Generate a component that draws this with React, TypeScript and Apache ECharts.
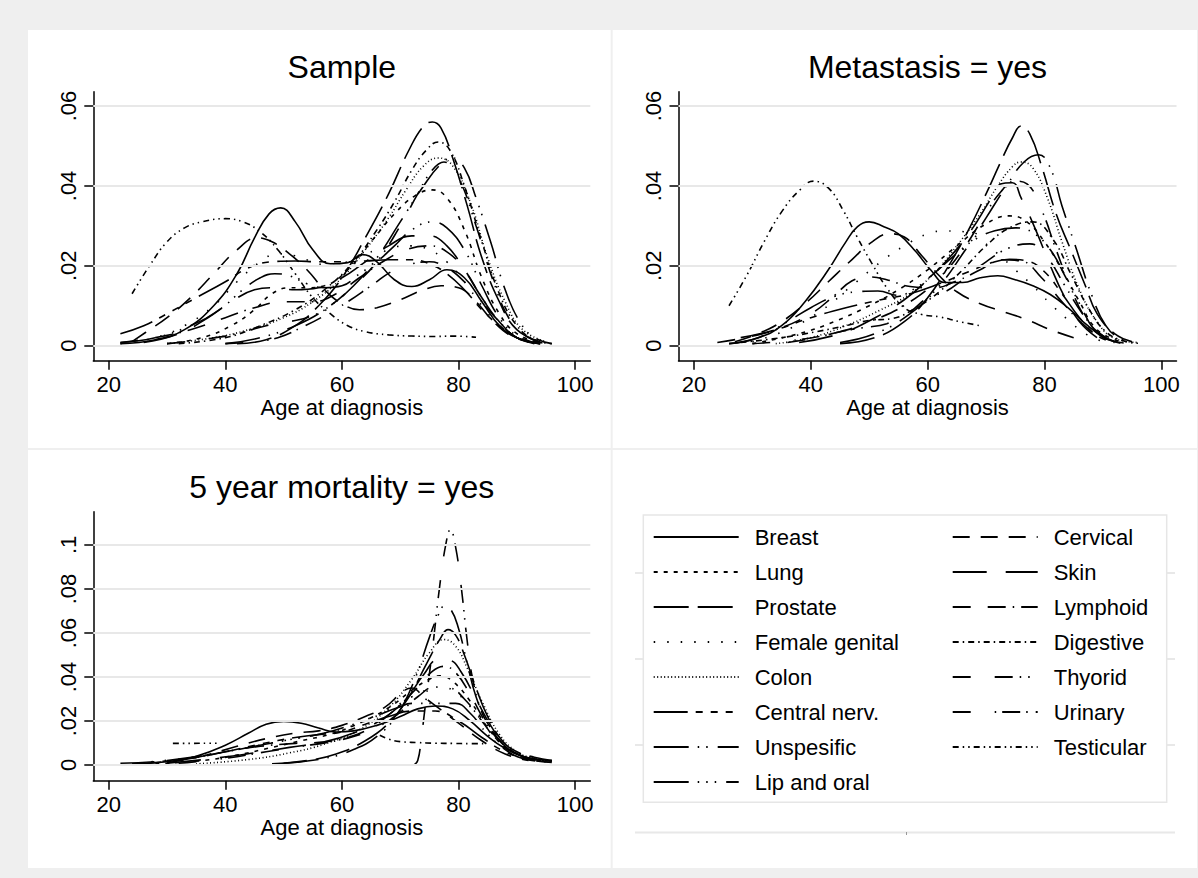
import React, { useEffect, useRef } from 'react';
import * as echarts from 'echarts';

const cancers = ['Breast', 'Lung', 'Prostate', 'Female genital', 'Colon', 'Central nerv.', 'Unspesific', 'Lip and oral', 'Cervical', 'Skin', 'Lymphoid', 'Digestive', 'Thyorid', 'Urinary', 'Testicular'];
const panelTitles = ['Sample', 'Metastasis = yes', '5 year mortality = yes'];
const xAxisTitle = 'Age at diagnosis';
const xTicks = [20, 40, 60, 80, 100];
const yTicksTop = [0, 0.02, 0.04, 0.06];
const yTicksBottom = [0, 0.02, 0.04, 0.06, 0.08, 0.1];

// Kernel density curves, Sample panel (order follows `cancers`)
const sampleCurves: number[][][] = [
  [[22,0.0005],[28,0.0015],[33,0.004],[38,0.01],[42,0.018],[45,0.027],[47.5,0.033],[49.5,0.0345],[52,0.031],[55,0.024],[58,0.0205],[61,0.0208],[63.5,0.0228],[66,0.021],[69,0.0165],[72,0.0148],[75,0.0165],[78,0.019],[81,0.017],[84,0.011],[87,0.005],[90,0.002],[94,0.0005]],
  [[30,0.0005],[36,0.002],[41,0.005],[45,0.009],[48,0.013],[51,0.0145],[54,0.0145],[57,0.015],[61,0.019],[65,0.026],[69,0.033],[72.5,0.0375],[75.5,0.039],[78,0.037],[81,0.029],[84,0.017],[87,0.008],[90,0.003],[94,0.0007]],
  [[42,0.0005],[47,0.0015],[52,0.005],[56,0.01],[60,0.017],[64,0.027],[68,0.038],[71.5,0.049],[74,0.055],[75.5,0.056],[77,0.0545],[79,0.047],[81.5,0.035],[84,0.022],[87,0.011],[90,0.004],[94,0.001]],
  [[22,0.0005],[28,0.002],[33,0.005],[38,0.01],[42,0.016],[46,0.021],[49,0.023],[52,0.0225],[55,0.021],[58,0.02],[61,0.021],[64,0.023],[68,0.0245],[72,0.025],[75,0.024],[78,0.021],[81,0.016],[84,0.01],[87,0.005],[90,0.002],[94,0.0005]],
  [[30,0.0005],[38,0.002],[44,0.004],[50,0.007],[55,0.011],[60,0.017],[64,0.024],[68,0.032],[71,0.039],[74,0.045],[76.5,0.047],[79,0.045],[82,0.036],[85,0.022],[88,0.011],[91,0.004],[95,0.001]],
  [[22,0.003],[26,0.005],[30,0.008],[35,0.012],[40,0.016],[44,0.0195],[48,0.021],[52,0.0212],[56,0.021],[60,0.021],[64,0.0212],[68,0.0215],[72,0.0215],[75,0.0205],[78,0.018],[81,0.014],[84,0.009],[87,0.005],[90,0.002],[94,0.0005]],
  [[40,0.0005],[46,0.002],[52,0.005],[57,0.009],[62,0.015],[66,0.022],[70,0.031],[74,0.04],[77,0.0455],[79,0.047],[81,0.0445],[83,0.037],[85.5,0.026],[88,0.014],[90.5,0.006],[93,0.002],[96,0.0005]],
  [[22,0.0008],[28,0.002],[34,0.005],[39,0.009],[43,0.014],[46,0.017],[48.5,0.018],[51,0.0175],[54,0.0155],[57,0.0145],[60,0.015],[63,0.018],[66,0.021],[69,0.025],[72,0.029],[75.5,0.031],[78,0.0295],[81,0.024],[84,0.015],[87,0.007],[90,0.0025],[94,0.0005]],
  [[24,0.001],[27,0.004],[30,0.007],[34,0.012],[38,0.018],[42,0.024],[45.5,0.027],[48,0.026],[51,0.023],[54,0.019],[57,0.014],[60,0.0105],[63,0.009],[66,0.0095],[70,0.0115],[74,0.014],[77,0.015],[80,0.0145],[83,0.011],[86,0.006],[89,0.0025],[93,0.0005]],
  [[26,0.0008],[32,0.003],[37,0.007],[41,0.011],[45,0.014],[48,0.0145],[52,0.014],[56,0.0145],[60,0.017],[64,0.021],[68,0.025],[72,0.0275],[75,0.0275],[78,0.025],[81,0.019],[84,0.012],[87,0.006],[90,0.002],[94,0.0005]],
  [[22,0.0008],[28,0.002],[34,0.004],[40,0.007],[45,0.0095],[50,0.011],[55,0.011],[59,0.013],[63,0.017],[67,0.021],[71,0.024],[75,0.025],[78,0.0235],[81,0.019],[84,0.012],[87,0.006],[90,0.002],[94,0.0005]],
  [[32,0.0005],[40,0.002],[46,0.005],[52,0.009],[57,0.014],[62,0.021],[66,0.029],[69,0.036],[72,0.044],[74.5,0.049],[76.5,0.051],[78.5,0.049],[81,0.04],[84,0.026],[87,0.013],[90,0.005],[93,0.0015],[96,0.0005]],
  [[30,0.0005],[36,0.0015],[42,0.003],[47,0.005],[51,0.006],[55,0.0075],[58,0.01],[62,0.015],[66,0.021],[70,0.03],[73,0.038],[75.5,0.044],[77.5,0.046],[80,0.042],[83,0.03],[86,0.016],[89,0.006],[92,0.002],[95,0.0005]],
  [[40,0.0005],[45,0.001],[49,0.002],[53,0.0045],[57,0.0075],[61,0.011],[65,0.015],[69,0.019],[72,0.0205],[75,0.021],[78,0.0195],[81,0.016],[84,0.011],[87,0.006],[90,0.002],[94,0.0005]],
  [[24,0.013],[27,0.02],[30,0.026],[33,0.0295],[36,0.031],[40,0.0318],[43,0.031],[46,0.0285],[49,0.024],[52,0.018],[55,0.012],[58,0.008],[61,0.005],[64,0.0035],[68,0.0027],[72,0.0024],[76,0.0023],[79,0.0024],[83,0.0021]],
];

// Metastasis = yes panel
const metastasisCurves: number[][][] = [
  [[26,0.0005],[31,0.002],[35,0.005],[39,0.011],[43,0.019],[46,0.026],[48,0.0298],[50,0.031],[52.5,0.0298],[55,0.028],[58,0.0235],[60.5,0.019],[63,0.0158],[66,0.0158],[69,0.017],[72,0.0175],[75,0.0165],[78,0.015],[81,0.0128],[84,0.0095],[87,0.0055],[90,0.0022],[93,0.0006]],
  [[30,0.0005],[38,0.003],[44,0.006],[50,0.01],[55,0.014],[60,0.019],[65,0.025],[70,0.0305],[74,0.0325],[77,0.031],[80,0.026],[83,0.019],[86,0.011],[89,0.004],[93,0.001]],
  [[45,0.0005],[51,0.002],[56,0.006],[60,0.012],[64,0.021],[67,0.029],[70,0.038],[72.5,0.046],[74.5,0.052],[76,0.055],[77.5,0.053],[79.5,0.045],[82,0.033],[84.5,0.024],[87,0.015],[89,0.008],[92,0.003],[95,0.001]],
  [[30,0.001],[36,0.004],[42,0.009],[47,0.015],[52,0.021],[56,0.025],[60,0.028],[63,0.0287],[66.5,0.0285],[69,0.0265],[72,0.023],[75,0.019],[78,0.015],[81,0.0105],[84,0.0065],[87,0.003],[90,0.001]],
  [[34,0.0005],[40,0.002],[46,0.005],[52,0.009],[57,0.013],[61,0.018],[65,0.025],[69,0.033],[72,0.04],[74.5,0.0448],[76,0.046],[78,0.0445],[80.5,0.037],[83,0.026],[86,0.014],[89,0.006],[92,0.0018],[96,0.0008]],
  [[28,0.002],[34,0.004],[40,0.007],[46,0.0095],[52,0.0115],[57,0.013],[62,0.0155],[67,0.0185],[71,0.0208],[74,0.0216],[77,0.0212],[80,0.0185],[83,0.013],[86,0.007],[89,0.0025],[92,0.0008]],
  [[45,0.0008],[51,0.003],[57,0.008],[62,0.015],[66,0.023],[70,0.032],[73.5,0.04],[76.5,0.046],[79,0.0478],[81,0.0445],[83,0.035],[85.5,0.024],[88,0.013],[90.5,0.005],[93,0.0018],[96,0.0008]],
  [[26,0.0005],[31,0.002],[36,0.006],[40,0.0095],[44,0.0123],[48,0.0135],[51.5,0.0137],[55,0.0126],[58,0.0145],[61,0.018],[64.5,0.0225],[68,0.0265],[71.5,0.0288],[75,0.0295],[78,0.0283],[81,0.024],[83.5,0.0175],[86,0.0105],[88.5,0.004],[91,0.0012]],
  [[27,0.001],[31,0.003],[35,0.006],[39,0.0105],[43,0.016],[47,0.0215],[50.5,0.026],[53.5,0.028],[56,0.0272],[59,0.0225],[62,0.0175],[65,0.0135],[69,0.0105],[73,0.0085],[77,0.0065],[81,0.004],[85,0.002]],
  [[38,0.0008],[45,0.003],[51,0.007],[56,0.0115],[60,0.0165],[64,0.0225],[67.5,0.029],[70.5,0.036],[72.5,0.0405],[74.5,0.0408],[76,0.037],[78.5,0.029],[81,0.02],[83.5,0.012],[86,0.006],[89,0.002]],
  [[24,0.0008],[28,0.0018],[34,0.004],[40,0.008],[44,0.0125],[47,0.0162],[50,0.0172],[53,0.0165],[57,0.0148],[61,0.0145],[65,0.0162],[69,0.019],[72.5,0.0215],[76,0.0212],[79.5,0.017],[83,0.011],[86.5,0.0055],[90,0.002],[94,0.0006]],
  [[28,0.0008],[35,0.002],[41,0.0035],[46,0.005],[50,0.0063],[54,0.0068],[58,0.0095],[62,0.0135],[66,0.019],[70,0.025],[74,0.0295],[78,0.031],[81.5,0.0265],[84.5,0.018],[87.5,0.0095],[90.5,0.0035],[94,0.001],[96,0.0006]],
  [[36,0.0008],[41,0.002],[45,0.0035],[49,0.0045],[53,0.0055],[57,0.0085],[60,0.012],[63,0.0135],[66,0.0165],[70,0.021],[74,0.0245],[77.5,0.0255],[80.5,0.022],[83.5,0.015],[86.5,0.008],[89.5,0.003],[92,0.001]],
  [[30,0.0005],[38,0.0015],[45,0.0035],[51,0.0065],[57,0.011],[62,0.017],[66,0.024],[69.5,0.032],[72.5,0.0385],[75,0.0412],[77,0.0405],[79.5,0.034],[82,0.024],[84.5,0.0145],[87,0.007],[90,0.0025],[93,0.0008]],
  [[26,0.01],[29,0.0175],[32,0.026],[35,0.0335],[38,0.0388],[40.5,0.0412],[43,0.0395],[45.5,0.034],[48,0.027],[50.5,0.0205],[53,0.0145],[56,0.0095],[59,0.0078],[62,0.0072],[65.5,0.006],[69,0.005]],
];

// 5 year mortality = yes panel
const mortalityCurves: number[][][] = [
  [[24,0.0005],[30,0.0015],[35,0.004],[40,0.009],[44,0.0145],[47,0.0185],[50,0.0198],[53,0.019],[56,0.0168],[59,0.015],[62,0.0155],[66,0.018],[70,0.022],[73,0.0255],[76,0.0268],[79,0.0255],[82,0.02],[85,0.013],[88,0.0075],[91,0.004],[94,0.0025],[96,0.002]],
  [[28,0.0005],[36,0.002],[42,0.0045],[48,0.008],[53,0.011],[58,0.014],[63,0.019],[68,0.026],[72,0.034],[75,0.039],[76.8,0.0405],[79,0.038],[82,0.029],[85,0.017],[88,0.008],[91,0.004],[94,0.0025],[96,0.002]],
  [[48,0.0005],[54,0.002],[59,0.005],[64,0.011],[68,0.019],[71.5,0.031],[74.5,0.046],[77,0.058],[78.2,0.0615],[79.5,0.059],[81,0.05],[83,0.035],[85,0.022],[87.5,0.011],[90,0.006],[93,0.0035],[96,0.002]],
  [[25,0.001],[33,0.003],[40,0.006],[46,0.009],[52,0.012],[58,0.015],[63,0.019],[68,0.025],[72,0.031],[75,0.0345],[77,0.0355],[79.5,0.033],[82.5,0.025],[85.5,0.015],[88.5,0.007],[92,0.003],[96,0.0015]],
  [[35,0.0005],[44,0.0025],[51,0.0055],[57,0.0095],[63,0.016],[68,0.026],[72,0.039],[75,0.051],[77.5,0.057],[79.5,0.054],[81.5,0.044],[84,0.029],[87,0.014],[90,0.006],[93,0.003],[96,0.0015]],
  [[22,0.0008],[28,0.0015],[34,0.003],[40,0.006],[46,0.0095],[52,0.0125],[56,0.0138],[60,0.015],[64,0.0185],[68,0.022],[72,0.0245],[76,0.0245],[80,0.02],[84,0.0125],[88,0.006],[92,0.0025],[96,0.0012]],
  [[50,0.0008],[57,0.003],[62,0.007],[66,0.013],[69.5,0.023],[72.5,0.039],[75,0.058],[76.5,0.068],[77.5,0.072],[78.7,0.0705],[80,0.062],[81.5,0.046],[83,0.031],[85,0.019],[87.5,0.01],[90,0.005],[94,0.002]],
  [[30,0.002],[38,0.005],[45,0.0085],[51,0.0115],[57,0.0145],[62,0.0185],[66,0.0225],[69.5,0.026],[72,0.028],[76,0.028],[79.5,0.028],[82,0.0235],[85,0.014],[88,0.007],[91,0.003],[95,0.0015]],
  [[30,0.001],[36,0.004],[42,0.0085],[47,0.012],[52,0.0145],[56,0.0155],[60,0.018],[64,0.022],[67.5,0.0265],[70.5,0.0335],[72,0.035],[74,0.031],[77,0.025],[80,0.019],[84,0.011],[88,0.005],[92,0.002]],
  [[30,0.0008],[38,0.003],[45,0.0055],[51,0.008],[57,0.0105],[62,0.0145],[67,0.021],[71,0.03],[74,0.041],[76.5,0.0478],[78.5,0.0475],[80.5,0.042],[83,0.03],[85.5,0.018],[88,0.009],[91,0.004],[95,0.0018]],
  [[26,0.0008],[33,0.0025],[40,0.006],[46,0.0085],[52,0.0098],[57,0.0105],[61,0.0125],[65,0.017],[69,0.025],[72.5,0.034],[75.5,0.0425],[77.5,0.0448],[79.5,0.042],[82,0.032],[84.5,0.02],[87,0.011],[90,0.005],[94,0.002],[96,0.0018]],
  [[66.5,0.0135],[68,0.0118],[70,0.0106],[73,0.0102],[76,0.0099],[79,0.0098],[82,0.0097],[84.5,0.0097]],
  [[72.3,0],[73,0.002],[73.6,0.012],[74.3,0.027],[75.5,0.052],[76.8,0.082],[77.8,0.1],[78.6,0.107],[79.5,0.099],[80.5,0.08],[81.5,0.056],[82.5,0.038],[84,0.024],[85.5,0.017]],
  [[32,0.0008],[40,0.003],[47,0.006],[53,0.0085],[58,0.0105],[62,0.013],[66,0.017],[70,0.024],[73,0.031],[76,0.0355],[78.5,0.035],[81,0.03],[84,0.02],[87,0.01],[90,0.005],[93,0.0025],[96,0.0018]],
  [[31,0.0098],[34,0.0098],[37,0.0099],[38.5,0.0099]],
];

const FONT = '"Liberation Sans", Arial, Helvetica, sans-serif';

// Stata-like line patterns (style, not data)
const dashPatterns: any[] = [
  'solid', [4, 6], [35, 9], [1.5, 12], [1, 2.5], [34, 8, 7, 8, 7, 8, 7, 8],
  [35, 9, 1.5, 7, 1.5, 10], [35, 9, 1.5, 7, 1.5, 7, 1.5, 10], [17, 11], [34, 19],
  [18, 17, 18, 7, 1.5, 7], [6, 4, 1.5, 4], [18, 24, 18, 7, 1.5, 7, 1.5, 8],
  [18, 24, 1.5, 6, 18, 6, 1.5, 8], [6, 4, 1.5, 4, 1.5, 4],
];

const fmtY = (v: number) => (v === 0 ? '0' : v.toFixed(2).replace(/0+$/, '').replace(/^0/, ''));

export default function App() {
  const ref = useRef<HTMLDivElement>(null);
  useEffect(() => {
    if (!ref.current) return;
    const chart = echarts.init(ref.current, undefined, { renderer: 'svg' });
    const panels = [sampleCurves, metastasisCurves, mortalityCurves];
    const grids = [
      { left: 93.3, top: 91.7, width: 497, height: 269 },
      { left: 678.5, top: 91.7, width: 498, height: 269 },
      { left: 93.3, top: 511.7, width: 497, height: 269 },
    ];
    const yRanges = [[-0.00377, 0.0636], [-0.00377, 0.0636], [-0.00714, 0.1151]];
    const yTickSets = [yTicksTop, yTicksTop, yTicksBottom];
    const axisLine = { show: true, onZero: false, lineStyle: { color: '#000', width: 1.5 } };
    const tickStyle = { color: '#000', width: 1.5 };

    const xAxis = grids.map((_, p) => ({
      type: 'value', gridIndex: p, min: 17.35, max: 102.6,
      axisLine, axisTick: { show: true, length: 9, lineStyle: tickStyle, customValues: xTicks },
      axisLabel: { customValues: xTicks, fontSize: 22, color: '#000', margin: 13, fontFamily: FONT },
      splitLine: { show: false },
      name: xAxisTitle, nameLocation: 'middle', nameGap: 35,
      nameTextStyle: { fontSize: 22, color: '#000', fontFamily: FONT },
    }));
    const yAxis = grids.map((_, p) => ({
      type: 'value', gridIndex: p, min: yRanges[p][0], max: yRanges[p][1],
      axisLine, axisTick: { show: true, length: 9, lineStyle: tickStyle, customValues: yTickSets[p] },
      axisLabel: { customValues: yTickSets[p], rotate: 90, fontSize: 22, color: '#000', margin: 14, fontFamily: FONT, formatter: fmtY },
      splitLine: { show: false },
    }));

    const series: any[] = [];
    panels.forEach((curves, p) => {
      series.push({
        type: 'line', name: 'gridlines' + p, xAxisIndex: p, yAxisIndex: p, data: [], silent: true, z: 1,
        markLine: {
          silent: true, symbol: ['none', 'none'], label: { show: false }, animation: false,
          lineStyle: { color: '#e8e8e8', width: 2, type: 'solid' },
          emphasis: { disabled: true },
          data: yTickSets[p].map((v) => ({ yAxis: v })),
        },
      });
      curves.forEach((pts, i) => {
        series.push({
          type: 'line', name: cancers[i], xAxisIndex: p, yAxisIndex: p, data: pts,
          symbol: 'none', showSymbol: false, smooth: 0.45, silent: true, z: 2,
          lineStyle: { color: '#000', width: 1.6, type: dashPatterns[i] },
          emphasis: { disabled: true },
        });
      });
    });

    const legendBase = {
      orient: 'vertical', itemWidth: 85, itemHeight: 20, itemGap: 13, padding: 0,
      selectedMode: false, z: 6,
      textStyle: { fontSize: 22, color: '#000', fontFamily: FONT, lineHeight: 20, padding: [0, 0, 0, 11] },
      lineStyle: { width: 2 },
      itemStyle: { opacity: 0 },
    };

    const grayLine = (y: number) => ({
      type: 'line', z: 0, silent: true,
      shape: { x1: 635, y1: y, x2: 1175, y2: y },
      style: { stroke: '#e8e8e8', lineWidth: 2 },
    });

    chart.setOption({
      animation: false,
      backgroundColor: '#efefef',
      textStyle: { fontFamily: FONT },
      title: panelTitles.map((t, p) => ({
        text: t, left: grids[p].left + grids[p].width / 2, top: grids[p].top - 41, textAlign: 'center',
        textStyle: { fontSize: 32, fontWeight: 'normal', color: '#000', fontFamily: FONT },
        padding: 0,
      })),
      grid: grids.map((g) => ({ ...g, containLabel: false })),
      xAxis, yAxis, series,
      legend: [
        { ...legendBase, data: cancers.slice(0, 8), left: 652.7, top: 526 },
        { ...legendBase, data: cancers.slice(8), left: 951.7, top: 526 },
      ],
      graphic: [
        { type: 'rect', z: -1, silent: true, shape: { x: 28, y: 30, width: 582.7, height: 418 }, style: { fill: '#fff' } },
        { type: 'rect', z: -1, silent: true, shape: { x: 612.7, y: 30, width: 584.3, height: 418 }, style: { fill: '#fff' } },
        { type: 'rect', z: -1, silent: true, shape: { x: 28, y: 450, width: 582.7, height: 418 }, style: { fill: '#fff' } },
        { type: 'rect', z: -1, silent: true, shape: { x: 612.7, y: 450, width: 584.3, height: 418 }, style: { fill: '#fff' } },
        grayLine(573), grayLine(659), grayLine(745), grayLine(832.5),
        { type: 'line', z: 0, silent: true, shape: { x1: 906.5, y1: 832, x2: 906.5, y2: 835 }, style: { stroke: '#999', lineWidth: 1 } },
        { type: 'rect', z: 1, silent: true, shape: { x: 643.3, y: 515, width: 523.4, height: 287.3 }, style: { fill: '#fff', stroke: '#e6e6e6', lineWidth: 1.5 } },
      ],
    });
    return () => chart.dispose();
  }, []);
  return <div ref={ref} style={{ position: 'absolute', left: 0, top: 0, width: 1198, height: 878 }} />;
}
